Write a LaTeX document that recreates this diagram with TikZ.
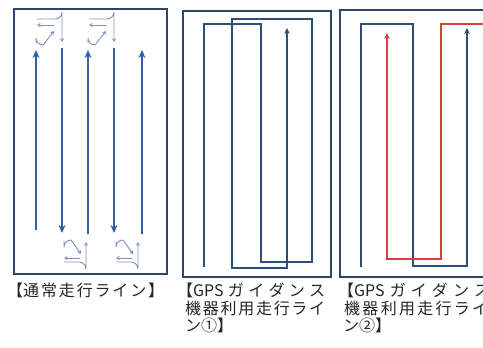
\documentclass[tikz,border=0pt]{standalone}
\usepackage{fontspec}
\newfontfamily\cjk{Noto Sans CJK JP}
\usetikzlibrary{arrows.meta}
\definecolor{frame}{RGB}{45,70,105}
\definecolor{lane}{RGB}{50,95,160}
\definecolor{path}{RGB}{45,78,120}
\definecolor{turn}{RGB}{125,145,185}
\definecolor{redp}{RGB}{215,65,60}
\tikzset{
  framebox/.style={draw=frame, line width=1.4pt},
  laneline/.style={draw=lane, line width=2pt, -{Stealth[length=8pt,width=7pt]}},
  turnline/.style={draw=turn, line width=0.9pt, -{Straight Barb[length=2.5pt,width=3pt]}},
  pathline/.style={draw=path, line width=1.6pt, -{Stealth[length=6pt,width=5.5pt]}},
  redline/.style={draw=redp, line width=1.5pt, -{Stealth[length=6pt,width=5.5pt]}},
  lbl/.style={font=\cjk\fontsize{16}{18}\selectfont, inner sep=0pt, anchor=base west, text=black!85}
}
\begin{document}
\begin{tikzpicture}[x=1pt,y=-1pt]
\useasboundingbox (0,0) rectangle (483,348);
\clip (0,0) rectangle (483,348);
\fill[white] (0,0) rectangle (483,348);
% ---------- panel 1 ----------
\draw[framebox] (14,9) rectangle (167,274);
\draw[laneline] (36,230) -- (36,50);
\draw[laneline] (62,48) -- (62,233);
\draw[laneline] (88,234) -- (88,50);
\draw[laneline] (114,48) -- (114,233);
\draw[laneline] (142,234) -- (142,50);
% top turn symbols
\foreach \dx in {0,52}{
  \begin{scope}[xshift=\dx]
  \draw[turnline] (37,19) -- (55,19) arc[start angle=90,end angle=0,radius=7] -- (62,42);
  \draw[turnline] (54,25) -- (37,25);
  \draw[turnline] (36,43) -- (36,38) arc[start angle=180,end angle=90,radius=7] -- (54,31);
  \end{scope}
}
% bottom turn symbols
\foreach \dx in {0,52}{
  \begin{scope}[xshift=\dx]
  \draw[turnline] (64,241) -- (64,247) arc[start angle=180,end angle=270,radius=7] -- (81,254);
  \draw[turnline] (80,258) -- (64,258);
  \draw[turnline] (64,262) -- (79,262) arc[start angle=270,end angle=360,radius=7] -- (86,242);
  \end{scope}
}
% ---------- panel 2 ----------
\draw[framebox] (183,11) rectangle (331,277);
\draw[pathline] (204,267) -- (204,24) -- (261,24) -- (261,262) -- (312,262) -- (312,19) -- (232,19) -- (232,268) -- (287,268) -- (287,28);
% ---------- panel 3 ----------
\draw[framebox] (340,10) rectangle (495,277);
\draw[pathline] (361,267) -- (361,24) -- (413,24) -- (413,266) -- (467,266) -- (467,28);
\draw[redline] (495,24) -- (441,24) -- (441,259) -- (387,259) -- (387,33);
% ---------- labels ----------
\node[lbl] (t1) at (7,296) {\makebox[157pt][s]{【通\hfil 常\hfil 走\hfil 行\hfil ラ\hfil イ\hfil ン\hfil 】}};
\node[lbl] (t2a) at (177,296) {\makebox[148pt][s]{【GPS\hfil ガ\hfil イ\hfil ダ\hfil ン\hfil ス}};
\node[lbl] (t2b) at (185,314) {\makebox[140pt][s]{機\hfil 器\hfil 利\hfil 用\hfil 走\hfil 行\hfil ラ\hfil イ}};
\node[lbl] (t2c) at (185,331) {ン①】};
\node[lbl] (t3a) at (338,296) {\makebox[152pt][s]{【GPS\hfil ガ\hfil イ\hfil ダ\hfil ン\hfil ス}};
\node[lbl] (t3b) at (344,314) {\makebox[144pt][s]{機\hfil 器\hfil 利\hfil 用\hfil 走\hfil 行\hfil ラ\hfil イ}};
\node[lbl] (t3c) at (343,331) {ン②】};
\end{tikzpicture}
\end{document}
